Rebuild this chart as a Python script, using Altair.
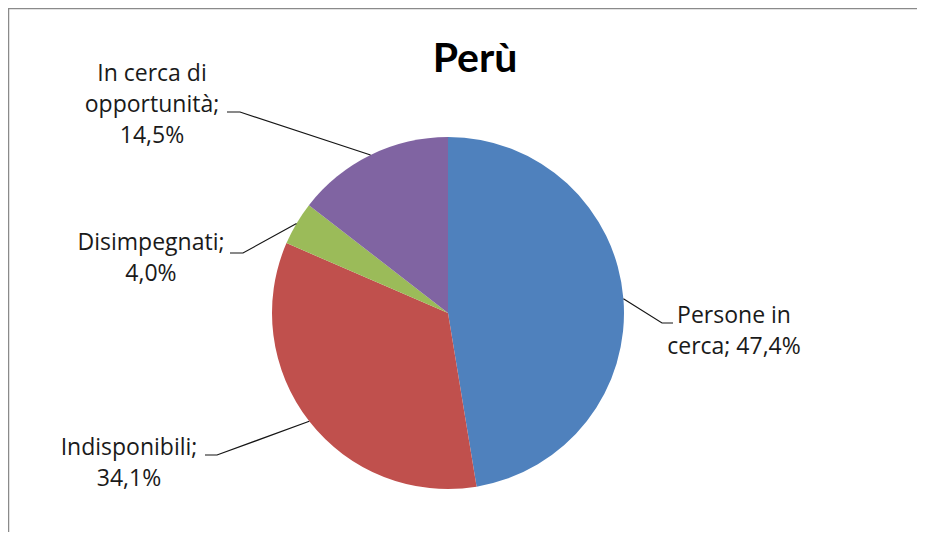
import math
import altair as alt
import pandas as pd

# ---- data ----
categories = ["Persone in cerca", "Indisponibili", "Disimpegnati", "In cerca di opportunità"]
values = [47.4, 34.1, 4.0, 14.5]
label_texts = ["Persone in\ncerca; 47,4%", "Indisponibili;\n34,1%", "Disimpegnati;\n4,0%",
               "In cerca di\nopportunità;\n14,5%"]
colors = ["#4F81BD", "#C0504D", "#9BBB59", "#8064A2"]
title_text = "Perù"

# ---- layout (pixels, chart coordinates) ----
W, H = 909, 524
CX, CY, R = 440, 305, 176
label_pos = [(726, 315), (121, 447), (143, 242), (144, 73)]
elbows = [(654, 315), (209, 447), (235, 245), (232, 104)]
ends = [(665, 315), (197, 447), (222, 245), (219, 104)]

pie_df = pd.DataFrame({"cat": categories, "val": values, "idx": list(range(len(values)))})

# leader lines: from slice mid-angle on the rim to elbow to end
total = sum(values)
rows = []
cum = 0.0
for i, (c, v) in enumerate(zip(categories, values)):
    mid = (cum + v / 2) / total
    cum += v
    a = 2 * math.pi * mid
    px, py = CX + R * math.sin(a), CY - R * math.cos(a)
    rows.append({"cat": c, "step": 0, "x": px, "y": py})
    rows.append({"cat": c, "step": 1, "x": elbows[i][0], "y": elbows[i][1]})
    rows.append({"cat": c, "step": 2, "x": ends[i][0], "y": ends[i][1]})
lead_df = pd.DataFrame(rows)

lab_df = pd.DataFrame({"cat": categories, "text": label_texts,
                       "x": [p[0] for p in label_pos], "y": [p[1] for p in label_pos]})

pie = alt.Chart(pie_df).mark_arc(outerRadius=R, stroke=None).encode(
    theta=alt.Theta("val:Q", stack=True),
    order=alt.Order("idx:Q"),
    color=alt.Color("cat:N", scale=alt.Scale(domain=categories, range=colors), legend=None),
    x=alt.value(CX),
    y=alt.value(CY),
)

leaders = alt.Chart(lead_df).mark_line(color="#151515", strokeWidth=1.2).encode(
    x=alt.X("x:Q", scale=None, axis=None),
    y=alt.Y("y:Q", scale=None, axis=None),
    detail="cat:N",
    order="step:Q",
)

labels = alt.Chart(lab_df).mark_text(
    align="center", baseline="alphabetic", lineBreak="\n", lineHeight=31,
    font="Open Sans", fontSize=23, color="#1a1a1a"
).encode(
    x=alt.X("x:Q", scale=None, axis=None),
    y=alt.Y("y:Q", scale=None, axis=None),
    text="text:N",
)

title = alt.Chart(pd.DataFrame({"t": [title_text]})).mark_text(
    align="center", baseline="alphabetic", font="Lato", fontSize=41, fontWeight="bold", color="#000000"
).encode(x=alt.value(467), y=alt.value(64), text="t:N")

frame = alt.Chart(pd.DataFrame({"k": [0]})).mark_rule(color="#8a8a8a", strokeWidth=1.5)
top_line = frame.encode(x=alt.value(0), x2=alt.value(W), y=alt.value(0.5))
left_line = frame.encode(x=alt.value(0.5), y=alt.value(0), y2=alt.value(H))

chart = alt.layer(pie, leaders, labels, title, top_line, left_line).properties(
    width=W, height=H, padding=0, autosize=alt.AutoSizeParams(type="none")
).configure_view(stroke=None)

chart.save("out.html", embed_options={"renderer": "svg", "actions": False})
